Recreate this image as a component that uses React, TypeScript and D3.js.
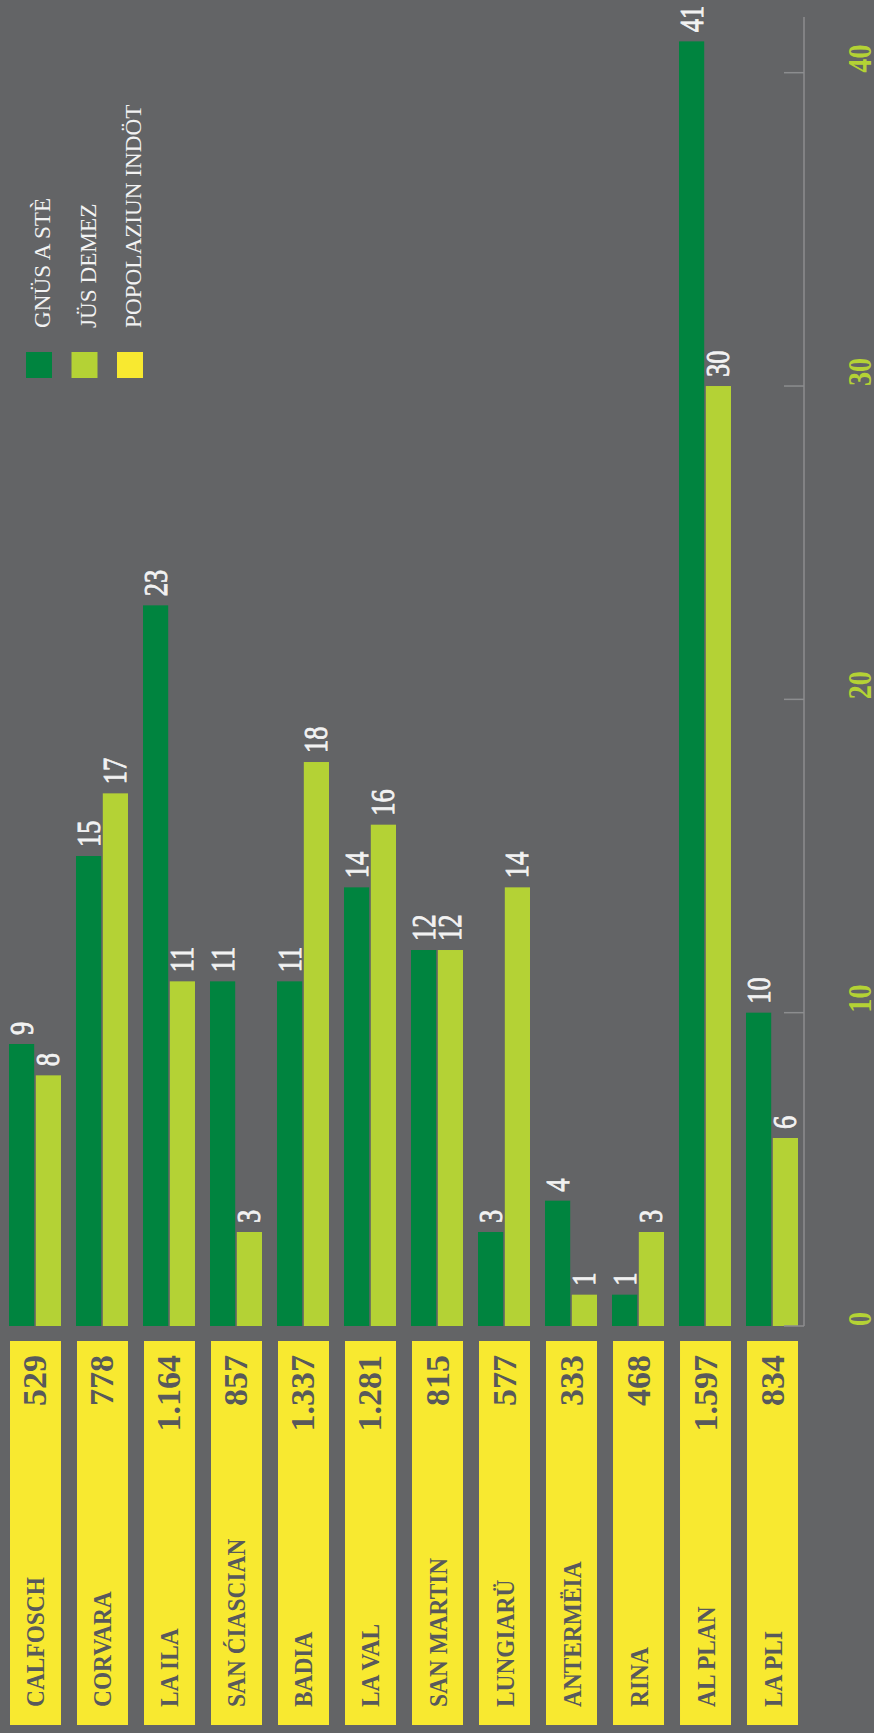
import { scaleLinear, scaleBand } from 'd3';

const WIDTH = 874;
const HEIGHT = 1733;

const categories = [
  'CALFOSCH',
  'CORVARA',
  'LA ILA',
  'SAN ĆIASCIAN',
  'BADIA',
  'LA VAL',
  'SAN MARTIN',
  'LUNGIARÜ',
  'ANTERMËIA',
  'RINA',
  'AL PLAN',
  'LA PLI',
];
const gnusASte = [9, 15, 23, 11, 11, 14, 12, 3, 4, 1, 41, 10];
const jusDemez = [8, 17, 11, 3, 18, 16, 12, 14, 1, 3, 30, 6];
const popolaziun = ['529', '778', '1.164', '857', '1.337', '1.281', '815', '577', '333', '468', '1.597', '834'];
const valueTicks = [0, 10, 20, 30, 40];
const legendLabels = ['GNÜS A STÈ', 'JÜS DEMEZ', 'POPOLAZIUN INDÖT'];

const BG = '#636466';
const DARK = '#00843f';
const LIGHT = '#b4d235';
const YELLOW = '#f8e930';
const INK = '#58595b';
const LABEL = '#f2f2f2';
const AXIS = '#8c8d8f';
const FONT = '"Liberation Serif", "Times New Roman", serif';

const AXIS_X = 804;
const TICK_LENGTH = 20;

export default function App() {
  // value axis runs bottom -> top (chart is turned on its side)
  const yScale = scaleLinear().domain([0, 40]).range([1326, 72.7]);
  const xScale = scaleBand<string>()
    .domain(categories)
    .range([9, 798])
    .paddingInner(0.224)
    .paddingOuter(0);
  const seriesScale = scaleBand<string>()
    .domain(['g', 'j'])
    .range([0, xScale.bandwidth()])
    .paddingInner(0.06);

  const series = [
    { key: 'g', values: gnusASte, color: DARK },
    { key: 'j', values: jusDemez, color: LIGHT },
  ];
  const legendColors = [DARK, LIGHT, YELLOW];

  return (
    <svg
      width={WIDTH}
      height={HEIGHT}
      viewBox={`0 0 ${WIDTH} ${HEIGHT}`}
      style={{ position: 'absolute', left: 0, top: 0, display: 'block' }}
    >
      <rect width={WIDTH} height={HEIGHT} fill={BG} />

      {/* legend */}
      {legendLabels.map((name, i) => {
        const sx = 26 + i * 45.5;
        return (
          <g key={name}>
            <rect x={sx} y={352} width={26} height={26} fill={legendColors[i]} />
            <text
              transform={`translate(${sx + 24}, 328) rotate(-90)`}
              fill={LABEL}
              fontFamily={FONT}
              fontSize={23.2}
            >
              {name}
            </text>
          </g>
        );
      })}

      {/* bars */}
      {series.map(s =>
        categories.map((c, i) => {
          const x = (xScale(c) ?? 0) + (seriesScale(s.key) ?? 0);
          const w = seriesScale.bandwidth();
          const v = s.values[i];
          const top = yScale(v);
          return (
            <g key={s.key + c}>
              <rect x={x} y={top} width={w} height={yScale(0) - top} fill={s.color} />
              <text
                transform={`translate(${x + w / 2 + 11}, ${top - 9}) rotate(-90) scale(0.78, 1)`}
                fill={LABEL}
                stroke={LABEL}
                strokeWidth={0.9}
                fontFamily={FONT}
                fontSize={34}
              >
                {v}
              </text>
            </g>
          );
        }),
      )}

      {/* population boxes */}
      {categories.map((c, i) => {
        const x = (xScale(c) ?? 0) + 1;
        const w = xScale.bandwidth() - 1;
        const cx = x + w / 2;
        return (
          <g key={'pop' + c}>
            <rect x={x} y={1341} width={w} height={384} fill={YELLOW} />
            <text
              transform={`translate(${cx + 9}, 1707) rotate(-90) scale(0.9, 1)`}
              fill={INK}
              fontFamily={FONT}
              fontWeight="bold"
              fontSize={26}
            >
              {c}
            </text>
            <text
              transform={`translate(${cx + 11}, 1355) rotate(-90)`}
              fill={INK}
              fontFamily={FONT}
              fontWeight="bold"
              fontSize={34}
              textAnchor="end"
            >
              {popolaziun[i]}
            </text>
          </g>
        );
      })}

      {/* value axis */}
      <line x1={AXIS_X} x2={AXIS_X} y1={17} y2={yScale(0)} stroke={AXIS} strokeWidth={1.5} />
      {valueTicks.map(t => (
        <g key={t} transform={`translate(0, ${yScale(t)})`}>
          <line x1={AXIS_X - TICK_LENGTH} x2={AXIS_X} stroke={AXIS} strokeWidth={1.5} />
          <text
            transform={`translate(871, 0) rotate(-90) scale(0.83, 1)`}
            fill={LIGHT}
            fontFamily={FONT}
            fontWeight="bold"
            fontSize={34}
          >
            {t}
          </text>
        </g>
      ))}
    </svg>
  );
}
